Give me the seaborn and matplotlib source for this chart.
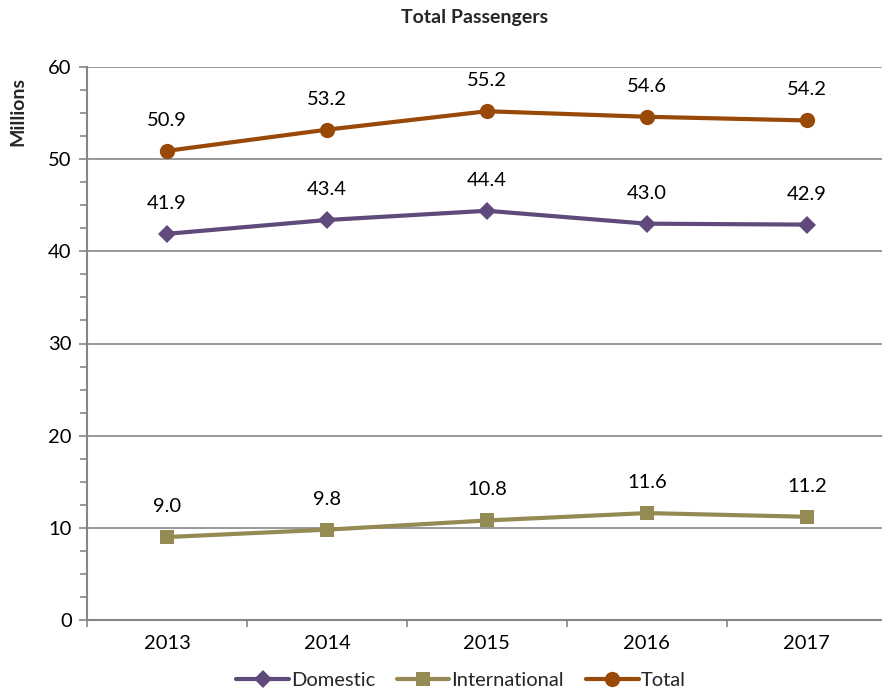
import matplotlib
matplotlib.use("Agg")
import matplotlib.pyplot as plt
import seaborn as sns
import pandas as pd
from matplotlib.ticker import MultipleLocator, FixedLocator
from matplotlib.lines import Line2D

years = ["2013", "2014", "2015", "2016", "2017"]
domestic = [41.9, 43.4, 44.4, 43.0, 42.9]
international = [9.0, 9.8, 10.8, 11.6, 11.2]
total = [50.9, 53.2, 55.2, 54.6, 54.2]
series_names = ["Domestic", "International", "Total"]
colors = {"Domestic": "#604A7B", "International": "#948A54", "Total": "#984807"}
markers = {"Domestic": "D", "International": "s", "Total": "o"}
msizes = {"Domestic": 9, "International": 10, "Total": 11}

sns.set_theme(style="white")
plt.rcParams["font.family"] = ["Lato", "DejaVu Sans"]

rows = []
for name, vals in zip(series_names, [domestic, international, total]):
    for i, (y, v) in enumerate(zip(years, vals)):
        rows.append({"x": i, "year": y, "value": v, "series": name})
df = pd.DataFrame(rows)

fig = plt.figure(figsize=(8.82, 6.93), dpi=100)
ax = fig.add_axes([87/882, 73/693, 1 - 87/882, (620-67)/693])

sns.lineplot(data=df, x="x", y="value", hue="series", style="series",
             hue_order=series_names, style_order=series_names,
             palette=colors, markers=markers, dashes=False,
             linewidth=3, markersize=10, markeredgewidth=0, ax=ax, legend=False)
for line, name in zip(ax.get_lines(), series_names):
    line.set_markersize(msizes[name])

for name, vals in zip(series_names, [domestic, international, total]):
    for i, v in enumerate(vals):
        ax.annotate(f"{v:.1f}", (i, v), xytext=(0, 22), textcoords="offset points",
                    ha="center", va="center", fontsize=14.5, color="#000000")

ax.set_xlim(-0.5, 4.47)
ax.set_ylim(0, 60)
ax.yaxis.set_major_locator(MultipleLocator(10))
ax.yaxis.set_minor_locator(MultipleLocator(2.5))
ax.set_xticks(range(len(years)))
ax.set_xticklabels(years)
ax.xaxis.set_minor_locator(FixedLocator([-0.5, 0.5, 1.5, 2.5, 3.5]))
ax.tick_params(axis="x", which="major", length=0, labelsize=14.5, pad=11, colors="#000000")
ax.tick_params(axis="x", which="minor", length=5, width=1.2, color="#868686", bottom=True)
ax.tick_params(axis="y", which="major", length=6, width=1.2, color="#868686", labelsize=14.5, pad=5, left=True)
ax.tick_params(axis="y", which="minor", length=5, width=1.2, color="#868686", left=True)
for lbl in ax.get_yticklabels():
    lbl.set_color("#000000")
ax.grid(axis="y", which="major", color="#868686", linewidth=1.2)
ax.set_axisbelow(True)
for s in ["top", "right"]:
    ax.spines[s].set_visible(False)
for s in ["left", "bottom"]:
    ax.spines[s].set_color("#868686")
    ax.spines[s].set_linewidth(1.5)
ax.set_xlabel("")
ax.set_ylabel("")

fig.text(475/882, 1 - 18/693, "Total Passengers", ha="center", va="center",
         fontsize=14, fontweight="bold")
fig.text(18/882, 1 - 112/693, "Millions", ha="center", va="center", rotation=90,
         fontsize=14, fontweight="bold")

handles = [Line2D([], [], color=colors[n], marker=markers[n], linewidth=3,
                  markersize=msizes[n], markeredgewidth=0) for n in series_names]
fig.legend(handles, series_names, loc="center", bbox_to_anchor=(461/882, 1 - 680/693),
           ncol=3, frameon=False, fontsize=14.5, handlelength=2.6, handletextpad=0.1,
           columnspacing=1.1)

fig.savefig("out.png", dpi=100)
